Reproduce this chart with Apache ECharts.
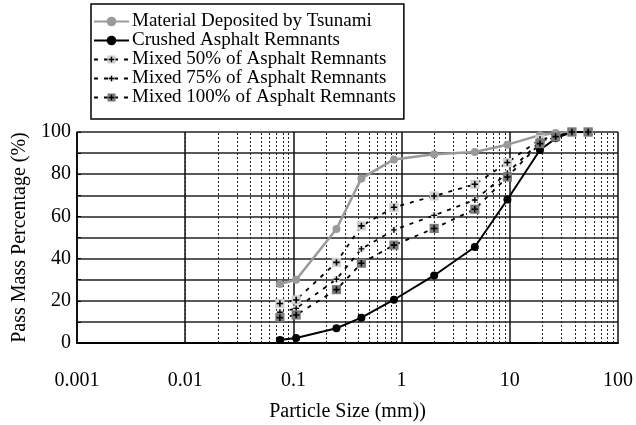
<!DOCTYPE html>
<html>
<head>
<meta charset="utf-8">
<script src="https://cdn.jsdelivr.net/npm/echarts@6/dist/echarts.min.js"></script>
<style>html,body{margin:0;padding:0;background:#fff}#c{width:636px;height:425px}</style>
</head>
<body>
<div id="c"></div>
<script>
// Sieve sizes (mm)
var sizes = [0.075, 0.106, 0.25, 0.425, 0.85, 2, 4.75, 9.5, 19, 26.5, 37.5, 53];
var tsunami = [28, 30, 54, 78, 87, 89.5, 90.5, 94, 98.5, 99.5, 100, 100];
var crushed = [1.4, 2.4, 7, 12, 20.5, 32, 45.5, 68, 91.5, 97, 100, 100];
var mixed50 = [18.7, 20.4, 38.2, 55.5, 64.3, 69.7, 75.2, 85.5, 96.5, 97.8, 100, 100];
var mixed75 = [14.6, 16.4, 30.2, 44.6, 53.6, 60.5, 67.8, 80.5, 95.5, 97.8, 100, 100];
var mixed100 = [12, 13.3, 25.3, 37.8, 46.4, 54.3, 63.4, 78.7, 94.5, 97.8, 100, 100];
var seriesNames = ['Material Deposited by Tsunami', 'Crushed Asphalt Remnants',
  'Mixed 50% of Asphalt Remnants', 'Mixed 75% of Asphalt Remnants', 'Mixed 100% of Asphalt Remnants'];
// minor log grid positions
var minorX = [];
[0.001, 0.01, 0.1, 1, 10].forEach(function (d) {
  for (var k = 2; k <= 9; k++) minorX.push(Number((d * k).toPrecision(3)));
});

function pairs(ys) { return sizes.map(function (x, i) { return [x, ys[i]]; }); }
function svgIcon(fill, sq) {
  var s = "<svg xmlns='http://www.w3.org/2000/svg' width='12' height='12'>" +
    (sq ? "<rect x='1' y='1' width='10' height='10' fill='" + fill + "'/>" : "<circle cx='6' cy='6' r='4' fill='#e4e4e4'/>") +
    "<path d='M6 2.5V9.5M2.5 6H9.5' stroke='#000' stroke-width='1.7'/></svg>";
  return 'image://data:image/svg+xml;charset=utf-8,' + encodeURIComponent(s);
}
var serif = 'Liberation Serif';
var chart = echarts.init(document.getElementById('c'), null, {renderer: 'canvas'});
chart.setOption({
  animation: false,
  backgroundColor: '#fff',
  grid: {left: 77, right: 18, top: 132, bottom: 82},
  legend: {
    orient: 'vertical', left: 91, top: 4,
    padding: [8, 8, 12, 2],
    borderColor: '#000', borderWidth: 1.5,
    itemWidth: 35, itemHeight: 12, itemGap: 0,
    textStyle: {fontFamily: serif, fontSize: 19, color: '#000', padding: [0, 0, 0, -2]},
    data: seriesNames
  },
  xAxis: {
    type: 'log', logBase: 10, min: 0.001, max: 100,
    name: 'Particle Size (mm))', nameLocation: 'middle', nameGap: 59,
    nameTextStyle: {fontFamily: serif, fontSize: 20, color: '#000'},
    axisLine: {show: true, lineStyle: {color: '#000', width: 2}},
    axisTick: {show: false},
    axisLabel: {fontFamily: serif, fontSize: 20, color: '#000', margin: 28,
      formatter: function (v) { return String(Number(v.toPrecision(3))); }},
    splitLine: {show: true, lineStyle: {color: '#111', width: 1.5}}
  },
  yAxis: {
    type: 'value', min: 0, max: 100, interval: 10,
    name: 'Pass Mass Percentage (%)', nameLocation: 'middle', nameGap: 43,
    nameTextStyle: {fontFamily: serif, fontSize: 20, color: '#000'},
    axisLine: {show: true, lineStyle: {color: '#000', width: 1.5}},
    axisTick: {show: true, inside: true, length: 4, lineStyle: {color: '#000'}},
    axisLabel: {fontFamily: serif, fontSize: 20, color: '#000', margin: 6,
      formatter: function (v) { return v % 20 === 0 ? String(v) : ''; }},
    splitLine: {show: true, lineStyle: {color: '#222', width: 1.5}}
  },
  series: [
    {
      name: seriesNames[0], type: 'line', data: pairs(tsunami),
      symbol: 'circle', symbolSize: 8, z: 3,
      itemStyle: {color: '#9a9a9a'}, lineStyle: {color: '#9a9a9a', width: 2.5},
      markLine: {
        silent: true, symbol: 'none', label: {show: false}, z: 1,
        lineStyle: {color: '#222', width: 1, type: [2, 2]},
        data: minorX.map(function (v) { return {xAxis: v}; })
      }
    },
    {
      name: seriesNames[1], type: 'line', data: pairs(crushed),
      symbol: 'circle', symbolSize: 8, z: 4,
      itemStyle: {color: '#000'}, lineStyle: {color: '#000', width: 2}
    },
    {
      name: seriesNames[2], type: 'line', data: pairs(mixed50),
      symbol: svgIcon('#cfcfcf', true), symbolSize: 11, z: 5,
      itemStyle: {color: '#000'}, lineStyle: {color: '#000', width: 1.8, type: [4, 6]}
    },
    {
      name: seriesNames[3], type: 'line', data: pairs(mixed75),
      symbol: svgIcon('#eee', false), symbolSize: 10, z: 5,
      itemStyle: {color: '#000'}, lineStyle: {color: '#000', width: 1.8, type: [4, 6]}
    },
    {
      name: seriesNames[4], type: 'line', data: pairs(mixed100),
      symbol: svgIcon('#7a7a7a', true), symbolSize: 11, z: 5,
      itemStyle: {color: '#000'}, lineStyle: {color: '#000', width: 1.8, type: [4, 6]}
    }
  ]
});
</script>
</body>
</html>
